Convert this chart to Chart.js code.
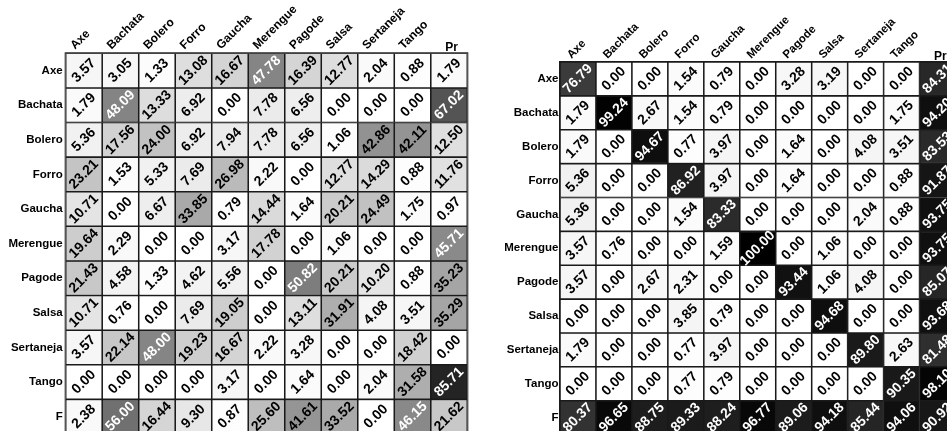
<!DOCTYPE html>
<html>
<head>
<meta charset="utf-8">
<script src="https://cdn.jsdelivr.net/npm/chart.js@4/dist/chart.umd.min.js"></script>
<style>
  html, body { margin: 0; padding: 0; width: 947px; height: 431px; overflow: hidden; background: #fff; }
  canvas { position: absolute; top: 0; }
  #baseline { left: 0; }
  #proposed { left: 480px; }
</style>
</head>
<body>
<canvas id="baseline" width="480" height="440"></canvas>
<canvas id="proposed" width="490" height="445"></canvas>
<script>
// Predicted genre (columns) against true genre (rows); the last column is precision, the last row F-measure.
const columns = ['Axe', 'Bachata', 'Bolero', 'Forro', 'Gaucha', 'Merengue', 'Pagode', 'Salsa', 'Sertaneja', 'Tango', 'Pr'];
const rows = ['Axe', 'Bachata', 'Bolero', 'Forro', 'Gaucha', 'Merengue', 'Pagode', 'Salsa', 'Sertaneja', 'Tango', 'F'];

// First matrix
const leftAxe       = [3.57, 3.05, 1.33, 13.08, 16.67, 47.78, 16.39, 12.77, 2.04, 0.88, 1.79];
const leftBachata   = [1.79, 48.09, 13.33, 6.92, 0.00, 7.78, 6.56, 0.00, 0.00, 0.00, 67.02];
const leftBolero    = [5.36, 17.56, 24.00, 6.92, 7.94, 7.78, 6.56, 1.06, 42.86, 42.11, 12.50];
const leftForro     = [23.21, 1.53, 5.33, 7.69, 26.98, 2.22, 0.00, 12.77, 14.29, 0.88, 11.76];
const leftGaucha    = [10.71, 0.00, 6.67, 33.85, 0.79, 14.44, 1.64, 20.21, 24.49, 1.75, 0.97];
const leftMerengue  = [19.64, 2.29, 0.00, 0.00, 3.17, 17.78, 0.00, 1.06, 0.00, 0.00, 45.71];
const leftPagode    = [21.43, 4.58, 1.33, 4.62, 5.56, 0.00, 50.82, 20.21, 10.20, 0.88, 35.23];
const leftSalsa     = [10.71, 0.76, 0.00, 7.69, 19.05, 0.00, 13.11, 31.91, 4.08, 3.51, 35.29];
const leftSertaneja = [3.57, 22.14, 48.00, 19.23, 16.67, 2.22, 3.28, 0.00, 0.00, 18.42, 0.00];
const leftTango     = [0.00, 0.00, 0.00, 0.00, 3.17, 0.00, 1.64, 0.00, 2.04, 31.58, 85.71];
const leftF         = [2.38, 56.00, 16.44, 9.30, 0.87, 25.60, 41.61, 33.52, 0.00, 46.15, 21.62];

// Second matrix
const rightAxe       = [76.79, 0.00, 0.00, 1.54, 0.79, 0.00, 3.28, 3.19, 0.00, 0.00, 84.31];
const rightBachata   = [1.79, 99.24, 2.67, 1.54, 0.79, 0.00, 0.00, 0.00, 0.00, 1.75, 94.20];
const rightBolero    = [1.79, 0.00, 94.67, 0.77, 3.97, 0.00, 1.64, 0.00, 4.08, 3.51, 83.53];
const rightForro     = [5.36, 0.00, 0.00, 86.92, 3.97, 0.00, 1.64, 0.00, 0.00, 0.88, 91.87];
const rightGaucha    = [5.36, 0.00, 0.00, 1.54, 83.33, 0.00, 0.00, 0.00, 2.04, 0.88, 93.75];
const rightMerengue  = [3.57, 0.76, 0.00, 0.00, 1.59, 100.00, 0.00, 1.06, 0.00, 0.00, 93.75];
const rightPagode    = [3.57, 0.00, 2.67, 2.31, 0.00, 0.00, 93.44, 1.06, 4.08, 0.00, 85.07];
const rightSalsa     = [0.00, 0.00, 0.00, 3.85, 0.79, 0.00, 0.00, 94.68, 0.00, 0.00, 93.68];
const rightSertaneja = [1.79, 0.00, 0.00, 0.77, 3.97, 0.00, 0.00, 0.00, 89.80, 2.63, 81.48];
const rightTango     = [0.00, 0.00, 0.00, 0.77, 0.79, 0.00, 0.00, 0.00, 0.00, 90.35, 98.10];
const rightF         = [80.37, 96.65, 88.75, 89.33, 88.24, 96.77, 89.06, 94.18, 85.44, 94.06, 90.92];

const leftMatrix = [leftAxe, leftBachata, leftBolero, leftForro, leftGaucha, leftMerengue,
  leftPagode, leftSalsa, leftSertaneja, leftTango, leftF];
const rightMatrix = [rightAxe, rightBachata, rightBolero, rightForro, rightGaucha, rightMerengue,
  rightPagode, rightSalsa, rightSertaneja, rightTango, rightF];

const FONT = '"Liberation Sans", Arial, Helvetica, sans-serif';
const LINE = '#1a1a1a';

// Linear grey ramp: 0 % -> white, 100 % -> black
function shade(v) {
  const g = Math.round(255 * (1 - v / 100));
  return `rgb(${g},${g},${g})`;
}

// Frame, row names, rotated column names and the rotated value inside every cell
const cellLabels = {
  id: 'cellLabels',
  afterDatasetsDraw(chart, args, opts) {
    const { ctx, chartArea } = chart;
    const xs = chart.scales.x;
    const ys = chart.scales.y;
    ctx.save();

    ctx.strokeStyle = LINE;
    ctx.lineWidth = 1;
    ctx.strokeRect(chartArea.left - 0.5, chartArea.top - 0.5, chartArea.width + 1, chartArea.height + 1);

    ctx.textAlign = 'center';
    ctx.textBaseline = 'middle';
    ctx.font = `bold ${opts.valueSize}px ${FONT}`;
    chart.data.datasets.forEach((ds, r) => {
      chart.getDatasetMeta(r).data.forEach((bar, c) => {
        const v = ds.data[c].v;
        const p = bar.getProps(['x', 'y', 'base'], true);
        ctx.save();
        ctx.translate(p.x, (p.y + p.base) / 2 + opts.valueDy);
        ctx.rotate(-Math.PI / 4);
        ctx.fillStyle = v >= 45 ? '#ffffff' : '#000000';
        ctx.fillText(v.toFixed(2), 0, 0);
        ctx.restore();
      });
    });

    ctx.fillStyle = '#000';
    ctx.font = `bold ${opts.rowSize}px ${FONT}`;
    ctx.textAlign = 'right';
    ctx.textBaseline = 'middle';
    rows.forEach((name, r) => {
      ctx.fillText(name, chartArea.left - opts.rowGap, ys.getPixelForValue(r + 0.5));
    });

    columns.forEach((name, c) => {
      const x = xs.getPixelForValue(c);
      if (name === 'Pr') {
        ctx.font = `bold ${opts.prSize}px ${FONT}`;
        ctx.textAlign = 'center';
        ctx.textBaseline = 'alphabetic';
        ctx.fillText(name, x + opts.prDx, chartArea.top - 2);
      } else {
        ctx.save();
        ctx.font = `bold ${opts.headSize}px ${FONT}`;
        ctx.textAlign = 'left';
        ctx.textBaseline = 'alphabetic';
        ctx.translate(x + opts.headDx, chartArea.top + opts.headDy);
        ctx.rotate(-Math.PI / 4);
        ctx.fillText(name, 0, 0);
        ctx.restore();
      }
    });
    ctx.restore();
  }
};

function heatmap(canvasId, matrix, padding, labelOpts) {
  const datasets = matrix.map((vals, r) => ({
    label: rows[r],
    data: vals.map((v, c) => ({ x: columns[c], y: 1, v })),
    backgroundColor: ctx => (ctx.raw ? shade(ctx.raw.v) : '#ffffff'),
    borderColor: LINE,
    borderWidth: 1.1,
    borderSkipped: false,
    barPercentage: 1,
    categoryPercentage: 1,
    stack: 'cells'
  }));
  return new Chart(document.getElementById(canvasId), {
    type: 'bar',
    data: { labels: columns, datasets },
    options: {
      responsive: false,
      animation: false,
      devicePixelRatio: 1,
      layout: { padding },
      plugins: {
        legend: { display: false },
        tooltip: { enabled: false },
        cellLabels: labelOpts
      },
      scales: {
        x: { type: 'category', stacked: true, display: false, offset: true },
        y: { type: 'linear', stacked: true, display: false, min: 0, max: rows.length, reverse: true }
      }
    },
    plugins: [cellLabels]
  });
}

heatmap('baseline', leftMatrix,
  { left: 65.7, top: 53.3, right: 12.7, bottom: 6 },
  { valueSize: 14, valueDy: 0, rowSize: 11.5, rowGap: 3, headSize: 12, headDx: -9, headDy: -3.5, prSize: 12, prDx: 2.5 });

heatmap('proposed', rightMatrix,
  { left: 80, top: 62, right: 14.5, bottom: 10.4 },
  { valueSize: 14, valueDy: 0, rowSize: 11.5, rowGap: 1.5, headSize: 11.5, headDx: -6.5, headDy: -3, prSize: 12, prDx: 2.7 });
</script>
</body>
</html>
